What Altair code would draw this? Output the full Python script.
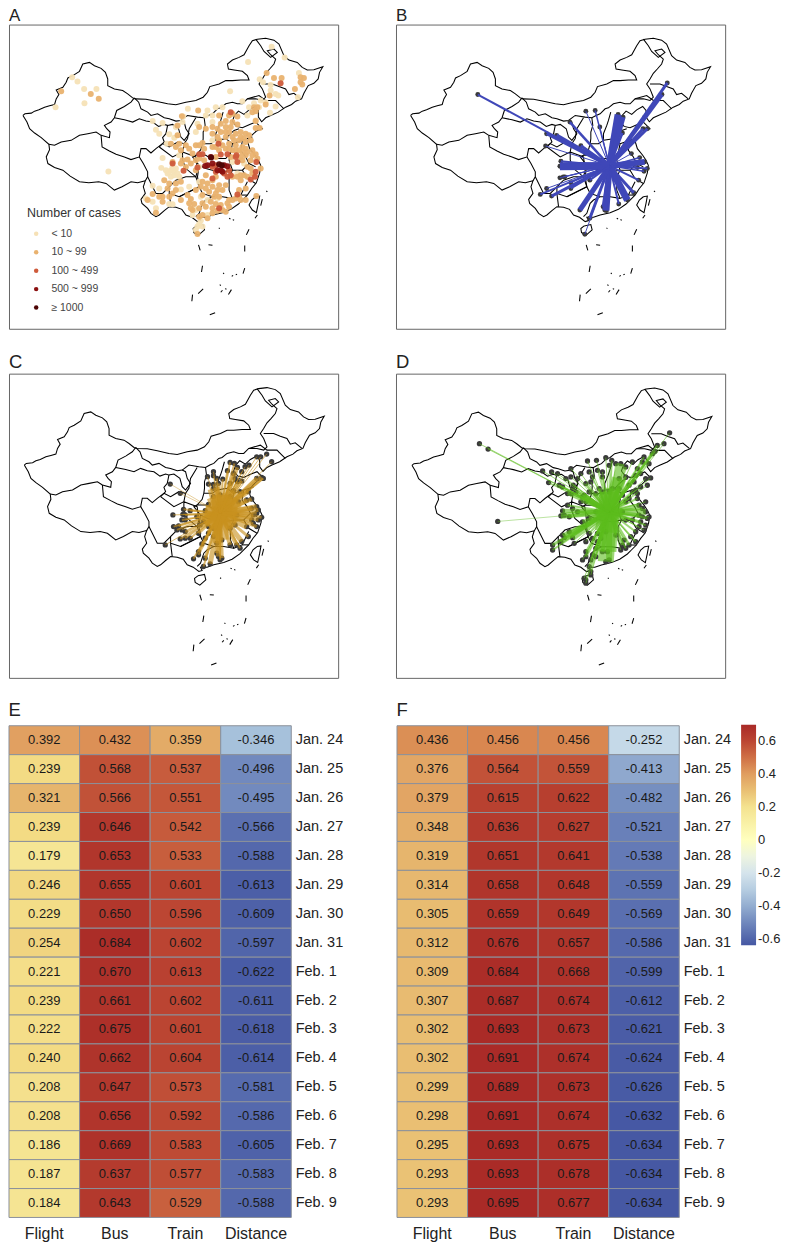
import altair as alt
import pandas as pd

FONT = "Liberation Sans"

# ---------- map outline, map units ----------
OUTER = [(70,345),(76,340),(95,338),(105,332),(118,328),(135,320),(150,316),(165,312),(170,295),(178,282),(170,268),(190,260),(200,245),(205,232),(220,225),(240,212),(250,190),(270,185),(285,195),(305,203),(318,215),(325,235),(325,255),(345,265),(370,270),(385,280),(400,292),(408,295),(440,296),(470,302),(505,310),(530,313),(560,305),(590,300),(612,290),(625,275),(632,258),(660,250),(680,240),(700,240),(725,238),(750,238),(745,225),(730,212),(705,208),(688,205),(685,190),(700,178),(720,170),(735,162),(750,135),(760,120),(775,115),(800,112),(825,118),(840,130),(855,165),(870,178),(895,185),(910,200),(925,208),(945,207),(972,198),(962,215),(958,235),(945,248),(928,255),(915,278),(908,295),(890,302),(878,312),(860,320),(838,335),(815,345),(800,352),(788,364),(778,350),(778,330),(768,318),(750,328),(735,342),(718,332),(706,345),(700,362),(712,378),(730,382),(752,372),(770,365),(790,385),(772,392),(758,405),(745,422),(752,445),(768,465),(778,480),(785,495),(782,518),(772,548),(758,565),(745,585),(730,600),(718,612),(695,628),(670,638),(640,645),(620,652),(600,652),(605,662),(595,665),(578,652),(560,645),(548,628),(530,622),(510,620),(495,632),(480,645),(470,650),(455,640),(445,625),(428,610),(425,598),(438,580),(432,560),(438,542),(415,548),(395,545),(368,560),(345,570),(320,550),(298,545),(268,548),(240,545),(212,528),(190,510),(165,502),(145,490),(140,470),(150,448),(148,432),(125,412),(105,398),(90,385),(82,365),(70,345)]
XJ_TIBET = [(148,432),(165,435),(185,425),(215,420),(240,405),(265,400),(290,395),(305,405)]
XJ_QH = [(305,405),(330,412),(332,395),(322,385),(315,375),(335,365),(345,352),(352,330),(375,318),(395,305),(405,292)]
QH_SOUTH = [(305,405),(308,440),(330,452),(350,462),(375,470),(395,478),(420,470),(425,445),(440,445),(455,458),(470,445),(490,430)]
TIBET_SC = [(420,470),(432,490),(445,515),(445,530),(438,542)]
QH_NORTH = [(345,352),(375,358),(400,365),(420,355),(440,362),(460,365),(478,378),(495,372),(505,375),(500,400),(490,412),(495,425),(480,440)]
IM_SOUTH = [(405,292),(418,305),(425,325),(445,335),(455,345),(475,340),(495,352),(510,355),(530,362),(545,360),(565,345),(595,350),(615,352),(628,345),(640,340),(655,325),(665,322),(680,310),(700,305),(715,310),(730,310),(745,295),(770,295),(790,300),(800,290),(790,265),(780,250),(790,235),(800,218),(812,205),(825,190),(830,175),(815,162),(805,150),(825,145),(835,155),(815,170),(795,152),(785,135),(770,115)]
GANSU_S = [(505,375),(520,372),(538,385),(545,410),(555,420),(570,400),(560,385),(555,365),(545,360)]
GANSU_SX = [(490,430),(510,440),(535,425),(555,430),(565,415),(570,385),(590,352)]
SHANXI = [(615,352),(618,375),(612,395),(612,415),(610,430),(635,430),(650,420),(650,400),(660,375),(665,360),(672,335)]
NE_1 = [(790,250),(820,250),(840,258),(860,265),(870,282),(885,278),(905,295)]
NE_2 = [(745,295),(780,285),(800,300),(830,300),(845,315),(855,325)]
HEBEI = [(650,420),(680,415),(692,402),(705,390),(720,385)]
HENAN = [(610,430),(605,448),(590,465),(620,465),(635,475),(650,475),(680,475),(695,455),(700,430),(680,415)]
ANHUI_N = [(700,430),(730,420),(760,410)]
ANHUI_E = [(730,420),(725,450),(740,470),(750,490),(770,500)]
ANHUI_S = [(695,455),(690,480),(700,510),(730,510),(750,490)]
ZHEJIANG = [(730,510),(745,535),(770,550)]
JIANGXI = [(700,510),(690,530),(690,570),(700,595),(725,585),(745,545)]
FUJIAN = [(725,585),(745,585)]
GD_N = [(700,595),(670,590),(640,590),(620,600),(610,610),(600,640),(590,650)]
HUBEI_S = [(590,465),(580,470),(600,495),(620,505),(640,510),(670,515),(700,510)]
HUNAN = [(600,495),(595,530),(600,560),(610,580),(640,590)]
CHONGQING = [(550,455),(590,470),(595,510),(590,530),(560,505),(550,480),(550,455)]
GUIZHOU = [(590,530),(600,560),(570,575),(540,590),(510,580),(510,560),(530,540),(560,530),(590,530)]
SC_YN = [(445,530),(470,580),(490,580),(510,560)]
YN_GX = [(510,580),(515,620)]
GX_GZ = [(540,590),(600,560)]
SC_N = [(480,440),(520,470),(550,455),(555,430)]
TAIWAN = [(770,590),(782,588),(778,610),(772,638),(760,630),(750,615),(758,600),(770,590)]
HAINAN = [(592,678),(612,674),(616,690),(598,706),(584,698),(582,686),(592,678)]
DASHES = [[(802,572),(805,575)],[(790,597),(785,617)],[(775,645),(768,655)],[(750,688),(742,705)],[(737,737),(737,755)],[(737,805),(732,822)],[(598,735),(603,752)],[(610,798),(607,817)],[(580,885),(578,905)],[(612,868),(597,882)],[(648,940),(632,946)],[(665,878),(670,872)],[(697,870),(688,885)],[(690,655),(694,657)],[(701,659),(705,661)],[(659,684),(662,686)],[(628,735),(640,736)],[(672,820),(675,822)],[(698,830),(702,827)],[(710,825),(714,824)],[(662,855),(665,858)],[(678,867),(682,869)]]
SEGMENTS = [OUTER,XJ_TIBET,XJ_QH,QH_SOUTH,TIBET_SC,QH_NORTH,IM_SOUTH,GANSU_S,GANSU_SX,SHANXI,NE_1,NE_2,HEBEI,HENAN,ANHUI_N,ANHUI_E,ANHUI_S,ZHEJIANG,JIANGXI,FUJIAN,GD_N,HUBEI_S,HUNAN,CHONGQING,GUIZHOU,SC_YN,YN_GX,GX_GZ,SC_N,TAIWAN,HAINAN] + DASHES

# ---------- panel A ----------
CASE_LABELS = ["< 10","10 ~ 99","100 ~ 499","500 ~ 999","≥ 1000"]
CASE_COLORS = ["#f6e1b6","#e9b26f","#cf5b3b","#8b1010","#4d0505"]
CASES_LOW = [(818,138),(857,170),(747,184),(218,230),(234,243),(254,265),(291,265),(255,308),(168,320),(693,272),(782,236),(792,245),(815,253),(900,217),(897,290),(830,280),(838,285),(566,325),(625,330),(650,320),(730,302),(800,305),(830,318),(813,337),(460,362),(490,368),(470,388),(480,400),(510,402),(525,412),(552,348),(550,365),(530,380),(503,430),(490,473),(327,514),(486,503),(515,510),(505,520),(525,525),(530,505),(540,465),(520,500),(540,530),(515,530),(460,557),(480,565),(440,595),(460,605),(470,625),(510,612),(520,613),(545,568),(570,560),(600,545),(600,500),(605,590),(655,595),(735,490),(715,520),(700,485),(610,680),(595,680),(590,690),(600,672),(605,662),(580,645),(625,645),(590,395),(595,370),(640,365),(640,345),(670,320),(745,345),(780,320),(770,360),(620,345),(640,420),(625,600),(590,630),(510,515),(525,512),(535,520),(500,510),(785,300),(765,308),(815,270),(750,320)]
CASES_MID = [(185,272),(274,280),(298,295),(803,217),(825,232),(848,232),(905,230),(915,232),(905,245),(888,265),(910,252),(812,285),(800,312),(765,320),(770,332),(775,320),(760,335),(597,330),(700,340),(715,348),(690,345),(640,380),(680,362),(700,365),(770,383),(782,383),(770,362),(548,347),(535,375),(600,380),(620,385),(640,400),(655,410),(680,380),(690,395),(710,400),(740,400),(720,420),(700,410),(680,410),(660,420),(670,435),(690,430),(710,435),(740,425),(755,420),(730,440),(660,450),(650,470),(540,430),(560,435),(590,435),(610,428),(580,460),(550,480),(520,485),(495,540),(510,550),(530,550),(545,545),(520,580),(490,590),(490,605),(460,582),(510,590),(575,597),(610,585),(640,560),(625,550),(640,540),(630,575),(660,555),(650,530),(680,555),(700,530),(735,525),(745,500),(755,480),(740,465),(770,462),(785,505),(772,588),(720,570),(740,565),(700,600),(725,600),(740,600),(690,600),(690,620),(670,630),(640,625),(620,620),(600,650),(580,630),(575,625),(610,610),(595,702),(470,638),(660,590),(650,580),(720,450),(700,450),(680,445),(740,445),(760,450),(725,470),(755,505),(725,525),(640,440),(615,445),(600,435),(665,395),(695,380),(715,372),(725,395),(750,405),(680,395),(650,440),(690,445),(705,420),(725,410),(735,415),(745,455),(760,465),(775,475),(730,455),(710,450),(695,470),(730,480),(760,520),(745,530),(725,540),(715,530),(670,570),(655,570),(645,590),(635,605),(650,612),(665,615),(685,610),(710,595),(720,590),(545,490),(565,478),(575,490),(560,500),(590,480),(620,525),(610,545),(620,565),(605,560),(590,570),(565,585),(545,600),(585,612),(570,610),(600,625),(640,640),(655,632),(680,635),(610,645),(625,655),(530,440),(545,450),(515,430),(535,405),(480,590),(445,600),(505,565),(530,570),(590,510),(615,480),(600,475),(570,445),(660,345),(665,370),(655,385)]
CASES_HIGH = [(845,248),(658,430),(610,462),(665,463),(685,462),(712,465),(715,485),(772,485),(553,512),(595,502),(650,515),(675,520),(640,500),(690,510),(685,530),(640,535),(770,515),(768,530),(755,538),(715,583),(695,335),(710,470),(695,525),(650,495),(600,462),(660,625),(520,490)]
CASES_VHIGH = [(635,470),(625,495),(640,490),(655,510),(670,515),(675,495),(665,510),(618,497),(685,498)]
CASES_TOP = [(636,472),(660,492),(668,495)]

# ---------- panels B, C, D: (x, y, line width) ----------
HUB_B = (664,497)
DEST_B = [(268,282,2),(475,400,3),(505,405,4),(472,437,1),(578,436,3),(545,365,2.5),(593,332,1),(621,330,1.5),(635,380,1),(690,342,7),(705,350,5),(703,398,2.5),(838,247,3),(822,282,4),(765,385,3),(778,385,3),(770,350,2),(755,472,1.5),(770,485,6),(748,502,2),(768,513,1.5),(778,505,2),(730,460,1),(752,540,2),(737,578,3),(718,600,7),(692,612,2),(655,632,6),(650,630,5),(645,620,3),(575,630,5),(605,655,3),(590,703,1),(490,588,3),(456,583,2),(475,565,1),(548,565,2),(515,498,8),(518,483,2),(578,494,1),(515,533,1),(525,530,1),(548,548,1),(530,530,1),(605,540,2)]
HUB_C = (660,505)
DEST_C = [(510,417,0.7),(540,445,0.7),(518,510,1),(495,600,1),(770,335,1),(782,335,1),(800,327,1),(815,350,1),(785,397,5),(770,400,4),(747,360,1),(690,352,2),(703,355,2),(712,367,4),(682,377,2),(640,380,1),(640,392,1),(622,395,1),(625,417,1),(640,430,12),(655,415,4),(668,402,2),(690,415,3),(712,410,3),(725,408,3),(700,437,6),(720,440,5),(745,440,4),(755,462,4),(740,465,5),(770,485,5),(755,490,5),(775,495,4),(760,510,4),(775,525,3),(785,517,3),(755,525,4),(770,545,3),(740,545,6),(745,575,3),(725,590,5),(710,600,4),(720,610,2),(690,600,4),(650,595,8),(665,585,14),(655,635,5),(660,645,2),(665,640,4),(630,657,5),(610,665,2),(595,620,2),(595,630,2),(580,642,2),(605,597,2),(570,580,2),(555,580,2),(540,582,2),(555,560,2),(595,565,3),(625,565,5),(640,575,5),(520,545,2),(535,543,2),(530,555,2),(545,525,2),(555,510,2),(550,493,2),(570,497,2),(590,515,4),(610,530,10),(615,497,12),(625,478,14),(640,455,14),(660,450,16),(690,455,16),(715,470,12),(710,510,16),(705,540,12),(690,550,8),(625,545,12),(640,550,14),(555,525,1),(548,508,1),(600,540,1),(615,580,1),(545,555,1),(770,505,3),(760,535,2),(735,365,1),(725,380,1),(700,385,2),(650,625,4),(615,640,3),(790,400,2),(705,400,2),(640,418,2),(650,400,2)]
HUB_D = (660,500)
DEST_D = [(270,295,1),(296,311,1),(325,529,0.7),(478,412,1.5),(460,377,1),(487,380,1),(505,385,1),(530,400,1),(545,370,1),(552,420,1),(510,420,2),(520,425,2),(535,445,3),(560,440,5),(595,347,1),(622,345,1),(650,337,1),(668,345,2),(695,355,8),(710,365,3),(730,350,1),(765,335,1.5),(790,325,2),(805,300,2),(825,295,1),(842,262,1),(798,318,2),(780,355,1),(760,350,1),(770,400,1),(785,398,1),(740,390,1),(710,395,3),(690,400,14),(640,380,1),(640,395,2),(600,380,1),(605,410,1),(590,415,2),(630,430,4),(620,445,5),(585,450,4),(580,455,5),(565,500,3),(520,497,4),(515,512,6),(535,480,2),(490,600,3),(490,615,2),(515,590,4),(525,578,5),(550,578,6),(520,570,3),(600,565,2),(625,565,3),(635,580,4),(620,610,2),(590,620,2),(590,635,3),(580,645,1),(605,645,2),(600,665,1),(605,690,1),(590,705,1),(590,715,1),(585,700,1),(605,680,1),(640,620,4),(660,645,6),(650,650,16),(655,620,18),(700,600,3),(720,600,3),(740,590,2),(710,610,2),(740,560,2),(765,555,1),(775,520,2),(780,515,1),(750,510,4),(770,500,6),(750,480,4),(720,460,2),(745,460,2),(730,440,1),(755,425,1),(740,435,1),(700,450,2),(670,430,14),(690,430,5),(710,470,3),(760,490,3),(770,540,2),(730,525,2),(710,525,3),(680,570,2),(600,520,4),(580,530,3),(650,560,22),(660,440,20),(620,500,8),(700,500,8),(545,395,1),(565,400,1),(575,385,1),(610,395,1),(625,375,1),(660,360,1),(680,355,1),(745,370,1),(755,385,1),(775,420,1),(735,410,1),(720,420,1),(745,445,1),(770,470,1),(760,515,1),(755,530,2),(750,545,1),(725,575,1),(705,585,1),(695,615,1),(620,635,2),(610,630,1),(625,590,2),(610,580,1),(590,590,1),(555,595,1),(540,560,1),(525,510,1),(540,515,2),(550,490,1),(575,470,1),(590,470,2),(600,440,1),(640,440,6),(550,430,1),(545,445,1)]

# ---------- panels E, F ----------
DATES = ["Jan. 24","Jan. 25","Jan. 26","Jan. 27","Jan. 28","Jan. 29","Jan. 30","Jan. 31","Feb. 1","Feb. 2","Feb. 3","Feb. 4","Feb. 5","Feb. 6","Feb. 7","Feb. 8","Feb. 9"]
MODES = ["Flight","Bus","Train","Distance"]
E_FLIGHT = [.392,.239,.321,.239,.179,.246,.229,.254,.221,.239,.222,.240,.208,.208,.186,.187,.184]
E_BUS = [.432,.568,.566,.646,.653,.655,.650,.684,.670,.661,.675,.662,.647,.656,.669,.637,.643]
E_TRAIN = [.359,.537,.551,.542,.533,.601,.596,.602,.613,.602,.601,.604,.573,.592,.583,.577,.529]
E_DIST = [-.346,-.496,-.495,-.566,-.588,-.613,-.609,-.597,-.622,-.611,-.618,-.614,-.581,-.586,-.605,-.583,-.588]
F_FLIGHT = [.436,.376,.379,.348,.319,.314,.305,.312,.309,.307,.302,.302,.299,.298,.295,.293,.293]
F_BUS = [.456,.564,.615,.636,.651,.658,.659,.676,.684,.687,.693,.691,.689,.691,.693,.693,.695]
F_TRAIN = [.456,.559,.622,.627,.641,.648,.649,.657,.668,.674,.673,.674,.673,.674,.675,.678,.677]
F_DIST = [-.252,-.413,-.482,-.521,-.538,-.559,-.569,-.586,-.599,-.612,-.621,-.624,-.626,-.632,-.634,-.634,-.634]
COLOR_STOPS = [-0.636,-0.5,-0.35,-0.25,-0.15,0,0.18,0.24,0.32,0.38,0.46,0.53,0.6,0.696]
COLOR_RANGE = ['#4557a3','#7088bd','#a5c0da','#c6d9e8','#e4eff0','#ffffbf','#f5e594','#f3db84','#e6b56d','#e2a564','#d8854f','#c85f3e','#bb4532','#a92a27']
COLORBAR_TICKS = [-0.6,-0.4,-0.2,0,0.2,0.4,0.6]

PANEL_W, PANEL_H = 330, 305
FRAME_X = {"A":[28,1018],"B":[26,1016],"C":[24,1014],"D":[22,1012]}
FRAME_Y = {"A":[988,71],"B":[988,71],"C":[985,70],"D":[985,69]}
SHIFT = {"B":(4,0),"C":(-1,-15),"D":(3,-15)}
TITLE_SIZE = {"A":17,"B":17,"C":18.5,"D":18.5,"E":18.5,"F":18.5}
TITLE_GAP = {"A":0,"B":0,"C":2.5,"D":2.5,"E":5.5,"F":5.5}

border_rows = [{"seg":s,"i":i,"x":p[0],"y":p[1]} for s,seg in enumerate(SEGMENTS) for i,p in enumerate(seg)]
border_df = pd.DataFrame(border_rows)

def title(letter):
    return alt.TitleParams(letter, anchor="start", fontSize=TITLE_SIZE[letter], fontWeight="normal", font=FONT,
                           color="#222222", offset=TITLE_GAP[letter])

def scales(letter):
    return (alt.Scale(domain=FRAME_X[letter], nice=False, zero=False),
            alt.Scale(domain=FRAME_Y[letter], nice=False, zero=False))

def border_layer(letter):
    sx, sy = scales(letter)
    return alt.Chart(border_df).mark_line(color="#000000", strokeWidth=1.05, interpolate="linear").encode(
        x=alt.X("x:Q", scale=sx, axis=None),
        y=alt.Y("y:Q", scale=sy, axis=None),
        detail="seg:N",
        order="i:Q",
    )

def flow_panel(letter, hub, dests, color, opacity, dot):
    sx, sy = scales(letter)
    dxx, dyy = SHIFT[letter]
    df = pd.DataFrame({
        "x":[d[0]+dxx for d in dests], "y":[d[1]+dyy for d in dests], "w":[d[2] for d in dests],
        "hx":[hub[0]+dxx]*len(dests), "hy":[hub[1]+dyy]*len(dests),
    })
    pts = alt.Chart(df).mark_circle(color="#3a3a3a", opacity=1, size=dot).encode(
        x=alt.X("x:Q", scale=sx, axis=None), y=alt.Y("y:Q", scale=sy, axis=None))
    lines = alt.Chart(df).mark_rule(color=color, opacity=opacity).encode(
        x=alt.X("hx:Q", scale=sx, axis=None), y=alt.Y("hy:Q", scale=sy, axis=None),
        x2="x:Q", y2="y:Q", strokeWidth=alt.StrokeWidth("w:Q", scale=None))
    return alt.layer(border_layer(letter), pts, lines).properties(
        width=PANEL_W, height=PANEL_H, title=title(letter),
        view=alt.ViewConfig(stroke="#666666", strokeWidth=1, fill="white"))

# panel A
rows = []
for lab, pts_ in zip(CASE_LABELS,[CASES_LOW,CASES_MID,CASES_HIGH,CASES_VHIGH,CASES_TOP]):
    rows += [{"x":p[0],"y":p[1],"cls":lab} for p in pts_]
cases_df = pd.DataFrame(rows)
sxA, syA = scales("A")
case_pts = alt.Chart(cases_df).mark_circle(size=36, opacity=0.95).encode(
    x=alt.X("x:Q", scale=sxA, axis=None),
    y=alt.Y("y:Q", scale=syA, axis=None),
    order=alt.Order("rank:Q"),
    color=alt.Color("cls:N", scale=alt.Scale(domain=CASE_LABELS, range=CASE_COLORS),
        legend=alt.Legend(orient="none", legendX=18, legendY=183, title="Number  of  cases",
            titleFont=FONT, titleFontSize=12.5, titleFontWeight="normal", titleColor="#333333", titlePadding=9,
            labelFont=FONT, labelFontSize=10.5, labelColor="#444444",
            symbolSize=20, symbolType="circle", symbolOpacity=1, symbolStrokeWidth=0, rowPadding=7.5,
            labelOffset=10, symbolOffset=4)),
).transform_calculate(rank="indexof(%s, datum.cls)" % str(CASE_LABELS))
panel_a = alt.layer(border_layer("A"), case_pts).properties(
    width=PANEL_W, height=PANEL_H, title=title("A"),
    view=alt.ViewConfig(stroke="#666666", strokeWidth=1, fill="white"))

panel_b = flow_panel("B", HUB_B, DEST_B, "#3f47b8", 1.0, 24)
panel_c = flow_panel("C", HUB_C, DEST_C, "#c8921e", 0.62, 28)
panel_d = flow_panel("D", HUB_D, DEST_D, "#5cbc1c", 0.6, 28)

def heat(letter, cols, show_legend):
    df = pd.DataFrame([{"mode":m,"date":d,"v":c[j],"label":f"{c[j]:.3f}"}
                       for m,c in zip(MODES,cols) for j,d in enumerate(DATES)])
    legend = None
    if show_legend:
        legend = alt.Legend(orient="none", legendX=345, legendY=-1, title=None, gradientLength=221,
            gradientThickness=15, values=COLORBAR_TICKS, labelFont=FONT, labelFontSize=13,
            labelColor="#222222", labelExpr="'' + round(datum.value*10)/10", labelOffset=2,
            gradientStrokeWidth=0)
    base = alt.Chart(df).encode(
        x=alt.X("mode:N", sort=MODES, scale=alt.Scale(paddingInner=0, paddingOuter=0),
            axis=alt.Axis(title=None, labelAngle=0, labelFont=FONT, labelFontSize=16, labelColor="#222222",
                          ticks=False, domain=False, labelPadding=8, grid=False)),
        y=alt.Y("date:N", sort=DATES, scale=alt.Scale(paddingInner=0, paddingOuter=0),
            axis=alt.Axis(title=None, orient="right", labelFont=FONT, labelFontSize=14.5, labelColor="#222222",
                          ticks=False, domain=False, labelPadding=4, grid=False)),
    )
    rect = base.mark_rect(stroke="#8c919b", strokeWidth=1).encode(
        color=alt.Color("v:Q", scale=alt.Scale(domain=COLOR_STOPS, range=COLOR_RANGE, interpolate="rgb"), legend=legend))
    txt = base.mark_text(font=FONT, fontSize=13, color="#1a1a1a").encode(text="label:N")
    return alt.layer(rect, txt).properties(width=283, height=493, title=title(letter),
                                           view=alt.ViewConfig(stroke=None))

panel_e = heat("E", [E_FLIGHT,E_BUS,E_TRAIN,E_DIST], False)
panel_f = heat("F", [F_FLIGHT,F_BUS,F_TRAIN,F_DIST], True)

row1 = alt.hconcat(panel_a, panel_b, spacing=56)
row2 = alt.hconcat(panel_c, panel_d, spacing=56)
row3 = alt.hconcat(panel_e, panel_f, spacing=53).resolve_scale(color="independent").resolve_legend(color="independent")
chart = alt.vconcat(row1, row2, row3, spacing=22).resolve_scale(color="independent").properties(
    padding={"left":0,"top":-4,"right":0,"bottom":0},
    background="white",
)
chart.save("out.html", embed_options={"renderer": "svg", "actions": False})
